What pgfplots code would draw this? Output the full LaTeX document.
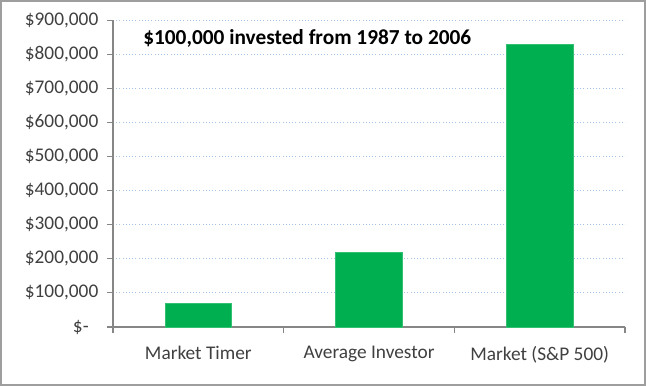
\documentclass[border=0pt]{standalone}
\usepackage{pgfplots}
\pgfplotsset{compat=1.18}
\usepackage{fontspec}
\setmainfont{Carlito}
\definecolor{barg}{HTML}{00B050}
\definecolor{axg}{HTML}{868686}
\definecolor{txtg}{HTML}{404040}
\definecolor{gridb}{HTML}{8EB4E3}
\begin{document}
\begin{tikzpicture}[x=0.75pt,y=0.75pt]
\useasboundingbox (0,0) rectangle (646,386);
\fill[white] (0,0) rectangle (646,386);
\draw[color=axg!80,line width=1.1pt] (1,1) rectangle (645,385);
\begin{axis}[
  at={(84.75pt,44.25pt)}, anchor=south west,
  scale only axis,
  width=384pt, height=230pt,
  xmin=-0.5, xmax=2.5,
  ymin=0, ymax=900000,
  scaled y ticks=false,
  axis x line=bottom, axis y line=left,
  axis line style={-, color=axg, line width=0.8pt},
  xtick={-0.5,0.5,1.5,2.5},
  xticklabels={},
  extra x ticks={0,1,2},
  extra x tick labels={Market Timer,Average Investor,Market (S\&P 500)},
  extra x tick style={major tick length=0pt, grid=none,
     xticklabel style={yshift=-11pt}},
  x tick style={color=axg, line width=0.8pt},
  major tick length=4.5pt,
  tick align=outside,
  ytick={0,100000,200000,300000,400000,500000,600000,700000,800000,900000},
  yticklabels={\makebox[19pt][l]{\$-},\$100{,}000,\$200{,}000,\$300{,}000,\$400{,}000,\$500{,}000,\$600{,}000,\$700{,}000,\$800{,}000,\$900{,}000},
  y tick style={color=axg, line width=0.8pt},
  ymajorgrids,
  major grid style={color=gridb!80, dotted, line width=0.8pt},
  tick label style={font=\fontsize{14.5}{17}\selectfont, color=txtg},
  yticklabel style={xshift=-3pt},
  ybar, bar width=50pt,
  clip=false,
]
\addplot[fill=barg, draw=barg!80!white, line width=0.4pt] coordinates {(0,70000) (1,220000) (2,830000)};
\end{axis}
\node[anchor=west, font=\fontsize{16}{19}\selectfont\bfseries, inner sep=0pt] at (143,348) {\$100,000 invested from 1987 to 2006};
\end{tikzpicture}
\end{document}
